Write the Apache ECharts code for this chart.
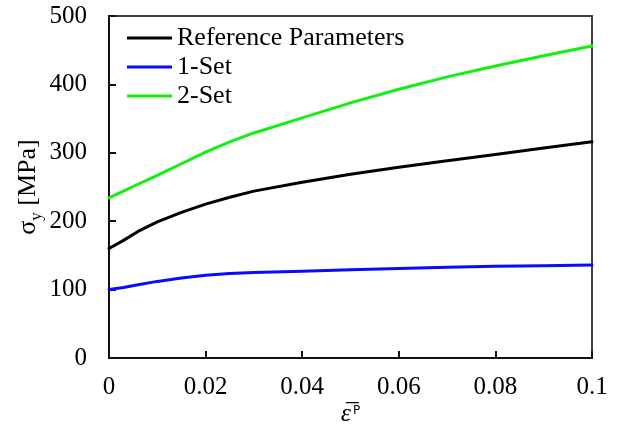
<!DOCTYPE html>
<html>
<head>
<meta charset="utf-8">
<script src="https://cdn.jsdelivr.net/npm/echarts@6/dist/echarts.min.js"></script>
<style>
  html, body { margin: 0; padding: 0; background: #fff; }
  #chart { width: 620px; height: 424px; }
</style>
</head>
<body>
<div id="chart"></div>
<script>
// Equivalent plastic strain sample points
const strain = [0, 0.003, 0.006, 0.01, 0.015, 0.02, 0.025, 0.03, 0.04, 0.05, 0.06, 0.07, 0.08, 0.09, 0.1];
// Yield stress curves [MPa]
const referenceParams = [160, 172, 185, 199, 213, 225, 235, 244, 257, 268.5, 279, 288.5, 297.5, 307, 316];
const set1 = [100, 103, 107, 112, 117, 121, 123.5, 125, 127, 129, 131, 132.5, 134, 135, 136];
const set2 = [234, 244, 254, 267, 284, 301, 316, 329, 351, 373, 393, 411, 427, 442, 456];

const seriesNames = ['Reference Parameters', '1-Set', '2-Set'];
const xTickLabels = ['0', '0.02', '0.04', '0.06', '0.08', '0.1'];
const yTickLabels = ['0', '100', '200', '300', '400', '500'];

const serif = '"Liberation Serif", "Times New Roman", serif';

function pairs(ys) {
  return strain.map((x, i) => [x, ys[i]]);
}

function curve(name, ys, color) {
  return {
    name: name,
    type: 'line',
    data: pairs(ys),
    symbol: 'none',
    showSymbol: false,
    smooth: false,
    lineStyle: { color: color, width: 3, join: 'round', cap: 'round' },
    itemStyle: { color: color }
  };
}

const chart = echarts.init(document.getElementById('chart'), null, { renderer: 'canvas' });
chart.setOption({
  animation: false,
  backgroundColor: '#fff',
  grid: {
    left: 109, top: 16, right: 28, bottom: 66,
    outerBoundsMode: 'none', containLabel: false,
    show: true, borderColor: '#404040', borderWidth: 2
  },
  legend: {
    orient: 'vertical',
    left: 127, top: 25, padding: 0,
    icon: 'rect',
    itemWidth: 45, itemHeight: 3, itemGap: 3,
    data: seriesNames,
    textStyle: { fontFamily: serif, fontSize: 26, color: '#000', lineHeight: 26 }
  },
  xAxis: {
    type: 'value', min: 0, max: 0.1, interval: 0.02,
    name: '{e|ε̅}{p|P}',
    nameLocation: 'middle', nameGap: 41, nameMoveOverlap: false,
    nameTextStyle: {
      rich: {
        e: { fontFamily: serif, fontStyle: 'italic', fontSize: 26, color: '#000', verticalAlign: 'bottom', lineHeight: 28 },
        p: { fontFamily: '"DejaVu Sans", sans-serif', fontSize: 12, color: '#000', verticalAlign: 'top', lineHeight: 28, padding: [6, 0, 0, 2] }
      }
    },
    axisLine: { show: true, lineStyle: { color: '#111', width: 2 } },
    axisTick: { show: true, inside: true, length: 7, lineStyle: { color: '#111', width: 2 } },
    splitLine: { show: false },
    axisLabel: {
      margin: 17, fontFamily: serif, fontSize: 25, color: '#000',
      formatter: v => xTickLabels[Math.round(v / 0.02)]
    }
  },
  yAxis: {
    type: 'value', min: 0, max: 500, interval: 100,
    name: '{s|σ}{sub|y}{t| [MPa]}',
    nameLocation: 'middle', nameGap: 64, nameRotate: 90, nameMoveOverlap: false,
    nameTextStyle: {
      rich: {
        s: { fontFamily: serif, fontSize: 26, color: '#000', lineHeight: 34, verticalAlign: 'middle' },
        sub: { fontFamily: serif, fontSize: 17, color: '#000', lineHeight: 17, verticalAlign: 'bottom' },
        t: { fontFamily: serif, fontSize: 26, color: '#000', lineHeight: 34, verticalAlign: 'middle' }
      }
    },
    axisLine: { show: true, lineStyle: { color: '#111', width: 2 } },
    axisTick: { show: true, inside: true, length: 7, lineStyle: { color: '#111', width: 2 } },
    splitLine: { show: false },
    axisLabel: {
      margin: 22, fontFamily: serif, fontSize: 25, color: '#000',
      formatter: v => yTickLabels[Math.round(v / 100)]
    }
  },
  series: [
    curve(seriesNames[0], referenceParams, '#000000'),
    curve(seriesNames[1], set1, '#0a0aff'),
    curve(seriesNames[2], set2, '#12f012')
  ]
});
</script>
</body>
</html>
